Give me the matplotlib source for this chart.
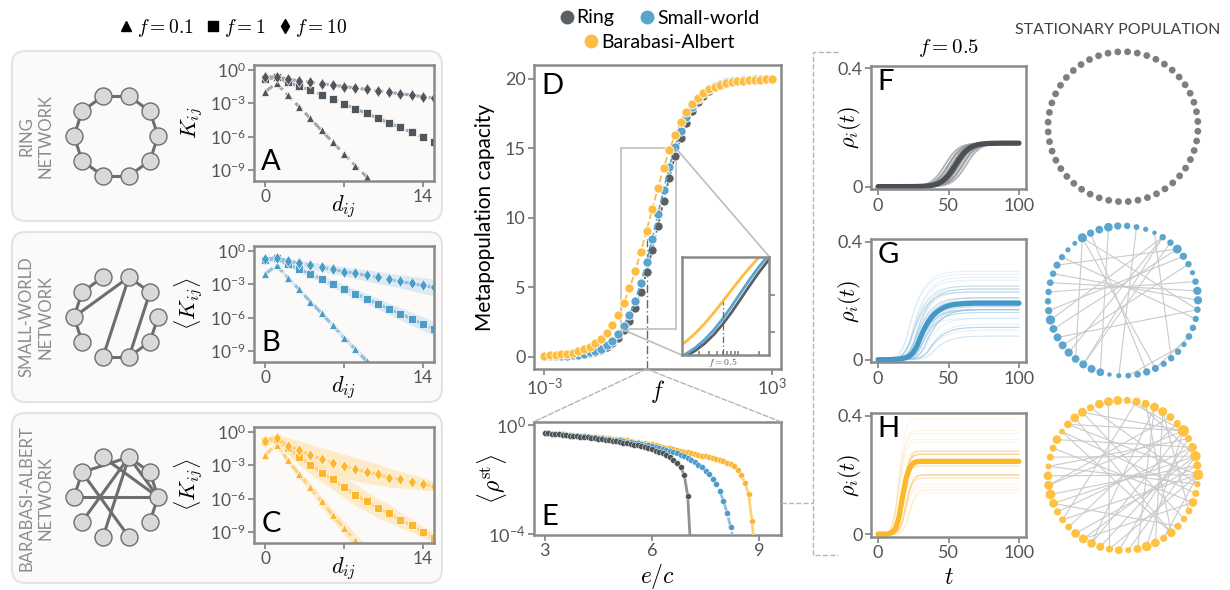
import numpy as np
import matplotlib
matplotlib.use("Agg")
import matplotlib.pyplot as plt
from matplotlib.patches import FancyBboxPatch, ConnectionPatch
from matplotlib.lines import Line2D
from matplotlib.ticker import NullFormatter, LogLocator
from mpl_toolkits.axes_grid1.inset_locator import mark_inset

plt.rcParams["font.family"] = ["Lato", "DejaVu Sans"]
plt.rcParams["mathtext.fontset"] = "cm"

# ---------------- data ----------------
# A-C: log10 of kernel K_ij vs distance d_ij (d = 0, 1, 2, ...) for f = 0.1, 1, 10
ring_k01 = [-1.95, -1.20, -2.25, -3.31, -4.35, -5.45, -6.50, -7.57, -8.62, -9.61, -10.65]
ring_k1 = [-0.85, -0.66, -1.10, -1.45, -1.80, -2.22, -2.64, -3.07, -3.49, -3.91, -4.34, -4.76, -5.18, -5.61, -6.03, -6.45]
ring_k10 = [-0.66, -0.59, -0.84, -0.97, -1.10, -1.23, -1.36, -1.49, -1.62, -1.75, -1.88, -2.01, -2.14, -2.27, -2.40, -2.53]

sw_k01 = [-2.05, -1.30, -2.40, -3.45, -4.55, -5.60, -6.70, -7.80, -8.85, -9.90, -10.90]
sw_k1 = [-0.85, -0.65, -1.20, -1.62, -2.06, -2.50, -2.95, -3.40, -3.85, -4.30, -4.75, -5.20, -5.65, -6.10, -6.55, -7.00]
sw_k10 = [-0.75, -0.60, -0.90, -1.11, -1.29, -1.48, -1.66, -1.85, -2.02, -2.20, -2.38, -2.56, -2.74, -2.92, -3.10, -3.28]
sw_band01 = [0.15, 0.15, 0.2, 0.2, 0.2, 0.25, 0.25, 0.25, 0.3, 0.3, 0.3]
sw_band1 = [0.2, 0.2, 0.25, 0.25, 0.3, 0.3, 0.35, 0.4, 0.4, 0.45, 0.5, 0.5, 0.55, 0.6, 0.6, 0.65]
sw_band10 = [0.2, 0.2, 0.25, 0.3, 0.3, 0.35, 0.4, 0.4, 0.45, 0.5, 0.55, 0.55, 0.6, 0.65, 0.7, 0.75]

ba_k01 = [-2.05, -1.13, -2.54, -3.82, -4.98, -6.26, -7.48, -8.64, -9.77, -10.90]
ba_k1 = [-0.83, -0.60, -1.44, -2.23, -2.96, -3.66, -4.27, -4.98, -5.64, -6.26, -6.86, -7.32, -7.93, -8.39, -9.00, -9.55]
ba_k10 = [-0.77, -0.52, -1.22, -1.62, -2.05, -2.44, -2.75, -3.05, -3.36, -3.60, -3.82, -4.12, -4.27, -4.49, -4.67, -4.88]
ba_band01 = [0.2, 0.25, 0.3, 0.35, 0.4, 0.45, 0.5, 0.55, 0.6, 0.65]
ba_band1 = [0.3, 0.4, 0.6, 0.7, 0.8, 0.85, 0.9, 0.95, 0.95, 0.9, 0.85, 0.8, 0.7, 0.6, 0.5, 0.4]
ba_band10 = [0.3, 0.4, 0.7, 0.85, 0.95, 1.0, 1.05, 1.05, 1.05, 1.0, 0.95, 0.85, 0.75, 0.65, 0.55, 0.45]

# D: metapopulation capacity vs f (log10 f from -3 to 3, step 0.15)
log_f = np.round(np.arange(-3, 3.0001, 0.15), 2)
cap_ring = [0.01, 0.02, 0.03, 0.04, 0.06, 0.08, 0.12, 0.17, 0.24, 0.34, 0.49, 0.69, 0.97, 1.36,
            1.89, 2.59, 3.51, 4.66, 6.06, 7.66, 9.41, 11.19, 12.89, 14.43, 15.75, 16.82, 17.67,
            18.31, 18.78, 19.13, 19.39, 19.57, 19.69, 19.79, 19.85, 19.90, 19.93, 19.95, 19.96,
            19.97, 19.98]
cap_sw = [0.02, 0.02, 0.03, 0.05, 0.07, 0.10, 0.14, 0.20, 0.29, 0.40, 0.57, 0.81, 1.14, 1.59,
          2.19, 2.99, 4.02, 5.29, 6.78, 8.46, 10.24, 12.00, 13.64, 15.08, 16.28, 17.24, 17.99,
          18.55, 18.96, 19.26, 19.48, 19.63, 19.74, 19.82, 19.87, 19.91, 19.94, 19.96, 19.97,
          19.98, 19.99]
cap_ba = [0.06, 0.08, 0.11, 0.15, 0.21, 0.28, 0.38, 0.52, 0.70, 0.95, 1.28, 1.70, 2.26, 2.96,
          3.84, 4.90, 6.15, 7.55, 9.07, 10.62, 12.15, 13.58, 14.86, 15.96, 16.88, 17.62, 18.20,
          18.65, 18.99, 19.25, 19.45, 19.59, 19.70, 19.78, 19.84, 19.88, 19.91, 19.94, 19.95,
          19.96, 19.97]
f_mark = 0.5

# E: log10 <rho_st> vs e/c (from 3.0, step 0.1)
rho_ring_log = [-0.30, -0.31, -0.32, -0.34, -0.35, -0.36, -0.37, -0.39, -0.40, -0.41,
                -0.43, -0.44, -0.46, -0.47, -0.49, -0.50, -0.52, -0.54, -0.56, -0.58,
                -0.60, -0.62, -0.65, -0.67, -0.70, -0.72, -0.75, -0.79, -0.82, -0.86,
                -0.90, -0.94, -0.99, -1.05, -1.11, -1.19, -1.28, -1.40, -1.56, -1.83,
                -2.61, -5.0]
rho_sw_log = [-0.30, -0.31, -0.32, -0.33, -0.34, -0.35, -0.36, -0.38, -0.39, -0.40,
              -0.41, -0.42, -0.44, -0.45, -0.46, -0.48, -0.49, -0.51, -0.52, -0.54,
              -0.55, -0.57, -0.59, -0.61, -0.63, -0.65, -0.67, -0.70, -0.72, -0.75,
              -0.78, -0.81, -0.84, -0.88, -0.92, -0.96, -1.00, -1.05, -1.10, -1.16,
              -1.22, -1.29, -1.37, -1.46, -1.56, -1.68, -1.82, -1.98, -2.18, -2.44,
              -2.80, -3.25, -3.75, -4.40]
rho_ba_log = [-0.30, -0.31, -0.32, -0.33, -0.34, -0.35, -0.36, -0.37, -0.38, -0.39,
              -0.40, -0.41, -0.42, -0.43, -0.44, -0.45, -0.46, -0.48, -0.49, -0.50,
              -0.52, -0.53, -0.55, -0.57, -0.59, -0.61, -0.63, -0.65, -0.67, -0.69,
              -0.71, -0.74, -0.77, -0.80, -0.83, -0.86, -0.89, -0.92, -0.95, -0.98,
              -1.01, -1.04, -1.07, -1.10, -1.13, -1.16, -1.19, -1.22, -1.26, -1.30,
              -1.34, -1.39, -1.44, -1.52, -1.65, -1.85, -2.12, -2.55, -3.55, -5.0]

# F-H: mean rho_i(t) at t = 0, 2.5, ..., 100
rho_t_ring = [0, 0, 0, 0, 0, 0, 0, 0, 0.0001, 0.0001, 0.0003, 0.0005, 0.0008, 0.0013, 0.0022,
              0.0037, 0.0062, 0.0101, 0.0163, 0.0255, 0.0384, 0.0548, 0.0735, 0.0922, 0.1086,
              0.1215, 0.1307, 0.1369, 0.1408, 0.1433, 0.1448, 0.1457, 0.1462, 0.1465, 0.1467,
              0.147, 0.147, 0.147, 0.147, 0.147, 0.147]
rho_t_sw = [0, 0, 0, 0, 0.0005, 0.001, 0.002, 0.004, 0.007, 0.013, 0.025, 0.045, 0.075, 0.102,
            0.124, 0.142, 0.155, 0.165, 0.173, 0.179, 0.183, 0.186, 0.188, 0.189, 0.190, 0.191,
            0.191, 0.192, 0.192, 0.192, 0.192, 0.192, 0.192, 0.192, 0.192, 0.192, 0.192, 0.192,
            0.192, 0.192, 0.192]
rho_t_ba = [0.001, 0.001, 0.001, 0.002, 0.006, 0.020, 0.060, 0.130, 0.190, 0.225, 0.240, 0.245,
            0.246, 0.246, 0.246, 0.246, 0.246, 0.246, 0.246, 0.246, 0.246, 0.246, 0.246, 0.246,
            0.246, 0.246, 0.246, 0.246, 0.246, 0.246, 0.246, 0.246, 0.246, 0.246, 0.246, 0.246,
            0.246, 0.246, 0.246, 0.246, 0.246]

# per node stationary population (clockwise from top) and time offsets (in 2.5 steps)
n_ring = 48
ring_shift = [-3, -2, -2, -1, -1, -1, 0, 0, 0, 1, 1, 1, 2, 2, 3, 0, -1, 1, 0, -2, 2, 0, 1, -1,
              0, 0, 1, -1, 2, -2, 0, 1, -1, 0, 3, -3, 0, 1, -1, 0, 2, -2, 0, 1, -1, 0, 0, 0]
sw_pop = [0.21, 0.17, 0.14, 0.11, 0.08, 0.17, 0.17, 0.28, 0.21, 0.17, 0.11, 0.17, 0.25, 0.25,
          0.17, 0.16, 0.17, 0.18, 0.12, 0.17, 0.17, 0.16, 0.20, 0.21, 0.18, 0.14, 0.11, 0.08,
          0.23, 0.24, 0.24, 0.23, 0.25, 0.24, 0.24, 0.23, 0.30, 0.21, 0.17, 0.17, 0.18, 0.17,
          0.20, 0.16, 0.11, 0.10, 0.29, 0.21, 0.23, 0.27]
sw_shift = [1, 2, -1, 3, 4, 0, 2, -2, -1, 1, 3, 0, -2, -1, 2, 1, 0, 1, 3, 0, 2, 1, -1, -1, 0,
            2, 3, 4, -2, -1, -2, -1, -2, -1, -1, -2, -3, 0, 1, 0, 1, 2, -1, 1, 3, 3, -3, -1, -2, -2]
sw_edges = [(47, 32), (47, 15), (47, 23), (50, 29), (6, 37), (6, 33), (8, 43), (8, 36), (12, 40),
            (42, 14), (35, 15), (31, 6), (23, 18), (44, 16), (9, 38), (7, 31), (48, 24), (3, 27),
            (10, 34), (19, 26), (13, 41), (5, 21)]
ba_pop = [0.28, 0.20, 0.24, 0.24, 0.28, 0.28, 0.23, 0.20, 0.39, 0.20, 0.27, 0.34, 0.24, 0.35,
          0.16, 0.20, 0.27, 0.19, 0.17, 0.20, 0.27, 0.20, 0.27, 0.31, 0.24, 0.15, 0.23, 0.20,
          0.24, 0.27, 0.28, 0.27, 0.19, 0.19, 0.20, 0.27, 0.32, 0.28, 0.27, 0.15, 0.19, 0.20,
          0.27, 0.14, 0.23, 0.27, 0.28, 0.20, 0.27, 0.28]
ba_shift = [0, 1, 0, 0, 0, -1, 0, 1, -1, 1, 0, -1, 0, -1, 1, 1, 0, 1, 1, 0, 0, 1, 0, -1, 0,
            2, 0, 1, 0, 0, 0, 0, 1, 1, 1, 0, -1, 0, 0, 2, 1, 1, 0, 2, 0, 0, 0, 1, 0, 0]
ba_edges = [(9, 45), (9, 38), (9, 30), (9, 24), (9, 2), (9, 47), (12, 41), (12, 36), (12, 31),
            (12, 26), (12, 3), (14, 39), (14, 34), (14, 28), (14, 22), (14, 45), (11, 43),
            (11, 35), (11, 29), (13, 37), (13, 32), (10, 40), (10, 27), (5, 25), (5, 30),
            (4, 21), (6, 23), (6, 18), (50, 28), (3, 34), (16, 44), (17, 42), (19, 47),
            (20, 36), (46, 21), (48, 15), (7, 38), (8, 33), (15, 40), (17, 31), (21, 44)]

# schematic networks (10 nodes, node k at angle 36k deg)
schem_sw = [(3, 4), (4, 5), (5, 6), (5, 2), (2, 7), (2, 1), (1, 8), (0, 9), (9, 8), (7, 8)]
schem_ba = [(4, 2), (4, 5), (4, 8), (3, 0), (2, 1), (2, 0), (1, 0), (2, 6), (2, 7), (5, 0), (0, 9)]
schem_ring = [(k, (k + 1) % 10) for k in range(10)]

# ---------------- style ----------------
W, H = 1230, 590
SPINE = "#8a8a8a"
TICK = "#555555"
GRAY, GRAY_L = "#50565c", "#a3a7ab"
BLUE, BLUE_L, BLUE_B = "#4c9cc8", "#8fc1de", "#cfe4f1"
YEL, YEL_L, YEL_B = "#fdb62f", "#fdd27f", "#fee6b8"


def box(x0, y0, x1, y1):
    return [x0 / W, 1 - y1 / H, (x1 - x0) / W, (y1 - y0) / H]


def fx(x):
    return x / W


def fy(y):
    return 1 - y / H


def style(ax, size=12.5):
    for sp in ax.spines.values():
        sp.set_color(SPINE)
        sp.set_linewidth(1.8)
    ax.tick_params(which="both", color=SPINE, labelcolor=TICK, labelsize=size,
                   length=4, width=1.3, pad=2)


def letter(ax, s, x, y, va):
    ax.text(x, y, s, transform=ax.transAxes, fontsize=21, color="black", va=va, ha="left")


def shifted(curve, k):
    c = np.array(curve, dtype=float)
    if k > 0:
        return np.concatenate([np.full(k, c[0]), c[:-k]])
    if k < 0:
        return np.concatenate([c[-k:], np.full(-k, c[-1])])
    return c


fig = plt.figure(figsize=(W / 100, H / 100), dpi=100)

# ---------------- left boxes ----------------
for (y0, y1), name in zip([(51, 221), (232, 402), (413, 583)],
                          ["RING\nNETWORK", "SMALL-WORLD\nNETWORK", "BARABASI-ALBERT\nNETWORK"]):
    fig.add_artist(FancyBboxPatch((fx(12), fy(y1)), (430) / W, (y1 - y0) / H,
                                  boxstyle="round,pad=0,rounding_size=0.011",
                                  mutation_aspect=W / H, transform=fig.transFigure,
                                  fc="#fbfaf8", ec="#e3e3e3", lw=1.5, zorder=-5))
    fig.text(fx(36), fy((y0 + y1) / 2), name, rotation=90, ha="center", va="center",
             multialignment="center", color="#8c8c8c", fontsize=12, linespacing=1.2)

# top-left marker legend
hl = [Line2D([], [], ls="none", marker=m, color="black", ms=s) for m, s in
      [("^", 7), ("s", 6.5), ("d", 7.5)]]
fig.legend(hl, ["$f=0.1$", "$f=1$", "$f=10$"], loc="center", ncol=3,
           bbox_to_anchor=(fx(232), fy(28)), frameon=False, fontsize=14,
           handletextpad=0.05, columnspacing=0.5, handlelength=1.0)

# schematic networks
for cy, edges in zip([136, 317, 497], [schem_ring, schem_sw, schem_ba]):
    ax = fig.add_axes(box(116 - 55, cy - 55, 116 + 55, cy + 55))
    ax.set_xlim(-1.31, 1.31)
    ax.set_ylim(-1.31, 1.31)
    ax.axis("off")
    ang = np.deg2rad(36 * np.arange(10))
    xs, ys = np.cos(ang), np.sin(ang)
    for a, b in edges:
        ax.plot([xs[a], xs[b]], [ys[a], ys[b]], color="#6e6e6e", lw=2.2, zorder=1)
    ax.scatter(xs, ys, s=150, c="#d9d9d9", edgecolors="#6e6e6e", linewidths=1, zorder=2)

# ---------------- A-C ----------------
panels = [
    ((254, 65, 434, 181), "A", "$K_{ij}$", GRAY, GRAY_L, None,
     [ring_k01, ring_k1, ring_k10], None),
    ((254, 246, 434, 362), "B", r"$\langle K_{ij}\rangle$", BLUE, BLUE_L, BLUE_B,
     [sw_k01, sw_k1, sw_k10], [sw_band01, sw_band1, sw_band10]),
    ((254, 427, 434, 543), "C", r"$\langle K_{ij}\rangle$", YEL, YEL_L, YEL_B,
     [ba_k01, ba_k1, ba_k10], [ba_band01, ba_band1, ba_band10]),
]
for rect, lab, ylab, col, lcol, bcol, series, bands in panels:
    ax = fig.add_axes(box(*rect))
    ax.set_facecolor("none")
    for i, (vals, mk, ms) in enumerate(zip(series, ["^", "s", "d"], [6, 5.5, 6.5])):
        d = np.arange(len(vals))
        v = np.array(vals)
        if bands is not None:
            b = np.array(bands[i])
            ax.fill_between(d, 10 ** (v - b), 10 ** (v + b), color=bcol, alpha=0.75, lw=0)
        ax.plot(d, 10 ** v, ls=(0, (3, 1.5)), lw=2.2, color=lcol, marker=mk, ms=ms,
                mfc=col, mec="white", mew=0.5)
    ax.set_yscale("log")
    ax.set_ylim(1e-10, 10 ** 0.45)
    ax.set_xlim(-1, 15)
    ax.set_yticks([1, 1e-3, 1e-6, 1e-9])
    ax.minorticks_off()
    ax.set_xticks([0, 7, 14])
    ax.set_xticklabels(["0", "", "14"])
    style(ax)
    ax.set_ylabel(ylab, fontsize=16)
    ax.yaxis.set_label_coords(-0.27, 0.5)
    ax.set_xlabel("$d_{ij}$", fontsize=16, va="top")
    ax.xaxis.set_label_coords(0.5, -0.10)
    letter(ax, lab, 0.04, 0.05, "bottom")

# ---------------- D ----------------
axD = fig.add_axes(box(534, 65, 780.7, 369))
f = 10 ** log_f
for vals, col, z in [(cap_ring, "#5a5f64", 3), (cap_sw, "#58a4cf", 4), (cap_ba, "#fdbd42", 5)]:
    axD.plot(f, vals, ls="--", lw=1.3, color=col, marker="o", ms=6.6, mec="white",
             mew=0.6, zorder=z)
i_mark = int(np.argmin(np.abs(f - f_mark)))
axD.plot([f_mark, f_mark], [-0.9, cap_ba[i_mark]], ls=(0, (6, 2, 1, 2)), color="#666666",
         lw=1, zorder=2)
axD.set_xscale("log")
axD.set_xlim(10 ** -3.27, 10 ** 3.24)
axD.set_ylim(-0.9, 21)
axD.set_yticks([0, 5, 10, 15, 20])
axD.set_xticks([1e-3, 1e3])
axD.xaxis.set_minor_locator(plt.NullLocator())
style(axD, 13)
axD.set_ylabel("Metapopulation capacity", fontsize=15)
axD.yaxis.set_label_coords(-0.16, 0.5)
axD.set_xlabel("$f$", fontsize=17, va="top")
axD.xaxis.set_label_coords(0.5, -0.03)
letter(axD, "D", 0.03, 0.975, "top")

hd = [Line2D([], [], ls="none", marker="o", ms=9, color=c) for c in ["#5a5f64", "#58a4cf", "#fdbd42"]]
fig.legend(hd[:2], ["Ring", "Small-world"], loc="center", ncol=2, frameon=False,
           bbox_to_anchor=(fx(658), fy(18)), fontsize=14, handletextpad=0.0,
           columnspacing=1.2, handlelength=1.0, borderpad=0)
fig.legend(hd[2:], ["Barabasi-Albert"], loc="center", frameon=False,
           bbox_to_anchor=(fx(658), fy(42)), fontsize=14, handletextpad=0.0,
           handlelength=1.0, borderpad=0)

# inset
axI = fig.add_axes(box(681.7, 256.7, 769.3, 355))
for vals, col in [(cap_ring, "#5a5f64"), (cap_sw, "#58a4cf"), (cap_ba, "#fdbd42")]:
    axI.plot(f, vals, color=col, lw=2)
axI.plot([f_mark, f_mark], [2, cap_ba[i_mark]], ls=(0, (5, 2, 1, 2)), color="#666666", lw=0.9)
axI.set_xscale("log")
axI.set_xlim(10 ** -0.98, 10 ** 0.475)
axI.set_ylim(2, 15)
axI.yaxis.tick_right()
axI.set_yticks([5, 10])
axI.set_yticklabels([])
axI.set_xticks([f_mark])
axI.set_xticklabels(["$f=0.5$"])
axI.xaxis.set_minor_locator(LogLocator(subs=np.arange(2, 10)))
axI.xaxis.set_minor_formatter(NullFormatter())
style(axI, 7)
axI.tick_params(axis="x", which="both", direction="in", length=3, pad=1)
mark_inset(axD, axI, loc1=1, loc2=3, fc="none", ec="#bdbdbd", lw=1.2)

# ---------------- E ----------------
axE = fig.add_axes(box(534, 421.7, 780.7, 535))
for vals, col, lcol, ls, z in [(rho_ba_log, YEL, YEL_L, "-", 3),
                               (rho_sw_log, BLUE, BLUE_L, "--", 4),
                               (rho_ring_log, "#4f5459", "#8d9195", "-", 5)]:
    x = np.round(3 + 0.1 * np.arange(len(vals)), 1)
    axE.plot(x, 10 ** np.array(vals), color=lcol, lw=2, ls=ls, zorder=z)
    axE.plot(x, 10 ** np.array(vals), ls="none", marker="o", ms=4.3, mfc=col, mec="white",
             mew=0.3, zorder=z)
axE.set_yscale("log")
axE.set_ylim(10 ** -4.05, 10 ** 0.12)
axE.set_xlim(2.7, 9.6)
axE.set_yticks([1, 1e-4])
axE.minorticks_off()
axE.set_xticks([3, 6, 9])
style(axE, 13)
axE.set_ylabel(r"$\langle \rho^{\mathrm{st}} \rangle$", fontsize=17)
axE.yaxis.set_label_coords(-0.10, 0.5)
axE.set_xlabel("$e/c$", fontsize=17, va="top")
axE.xaxis.set_label_coords(0.5, -0.235)
letter(axE, "E", 0.03, 0.04, "bottom")

# connectors
for xb in [0, 1]:
    fig.add_artist(ConnectionPatch(xyA=(f_mark, -0.9), coordsA=axD.transData,
                                   xyB=(xb, 1), coordsB=axE.transAxes,
                                   ls="--", color="#b5b5b5", lw=1))
fig.add_artist(Line2D([fx(781), fx(813)], [fy(502.7), fy(502.7)], transform=fig.transFigure,
                      ls="--", color="#b5b5b5", lw=1))
fig.add_artist(Line2D([fx(838), fx(813), fx(813), fx(838)], [fy(51.7), fy(51.7), fy(555), fy(555)],
                      transform=fig.transFigure, ls="--", color="#b5b5b5", lw=1))

# ---------------- F-H ----------------
t = np.arange(0, 100.1, 2.5)
rows = [
    ((871, 65.7, 1026, 189.3), "F", rho_t_ring, [rho_t_ring[-1]] * len(ring_shift), ring_shift,
     "#9a9ea2", 0.5, 1.3, "#4a5056"),
    ((871, 239.3, 1026, 362.3), "G", rho_t_sw, sw_pop, sw_shift, "#9cc6e2", 0.28, 0.7, "#4598c6"),
    ((871, 413, 1026, 537), "H", rho_t_ba, ba_pop, ba_shift, "#fdd48e", 0.25, 0.7, "#fdb827"),
]
for rect, lab, mean, pops, shifts, tcol, alpha, tlw, mcol in rows:
    ax = fig.add_axes(box(*rect))
    for p, k in zip(pops, shifts):
        ax.plot(t, shifted(mean, k) * p / mean[-1], color=tcol, alpha=alpha, lw=tlw)
    ax.plot(t, mean, color=mcol, lw=3.8, solid_capstyle="round")
    ax.set_xlim(-5, 105)
    ax.set_ylim(-0.009, 0.409)
    ax.set_yticks([0, 0.4])
    ax.set_yticklabels(["0", "0.4"])
    ax.set_xticks([0, 50, 100])
    style(ax, 13)
    ax.set_ylabel(r"$\rho_i(t)$", fontsize=16)
    ax.yaxis.set_label_coords(-0.05, 0.5)
    letter(ax, lab, 0.04, 0.975, "top")
    if lab == "F":
        ax.set_title("$f=0.5$", fontsize=15, pad=9)
    if lab == "H":
        ax.set_xlabel("$t$", fontsize=17, va="top")
        ax.xaxis.set_label_coords(0.5, -0.24)

fig.text(fx(1118), fy(30), "STATIONARY POPULATION", ha="center", va="center",
         fontsize=11.5, color="#404040")

# network circles
nets = [(126.7, n_ring, None, None, "#7b7f83"),
        (300.8, len(sw_pop), sw_pop, sw_edges, "#5ba5cf"),
        (475.3, len(ba_pop), ba_pop, ba_edges, "#fec142")]
for cy, n, pops, edges, col in nets:
    ax = fig.add_axes(box(1123 - 90, cy - 90, 1123 + 90, cy + 90))
    ax.set_xlim(-1.2, 1.2)
    ax.set_ylim(-1.2, 1.2)
    ax.axis("off")
    ang = np.pi / 2 + 0.07 - 2 * np.pi * np.arange(n) / n
    xs, ys = np.cos(ang), np.sin(ang)
    if edges is not None:
        for a, b in edges:
            ax.plot([xs[a - 1], xs[b - 1]], [ys[a - 1], ys[b - 1]], color="#cacaca", lw=0.8,
                    zorder=1)
    if pops is None:
        sizes = np.full(n, (6.8 * 0.72) ** 2)
    else:
        sizes = ((4.5 + 22 * (np.array(pops) - 0.08)) * 0.72) ** 2
    ax.scatter(xs, ys, s=sizes, c=col, edgecolors="none", zorder=2)

fig.savefig("out.png", dpi=100, facecolor="white")
